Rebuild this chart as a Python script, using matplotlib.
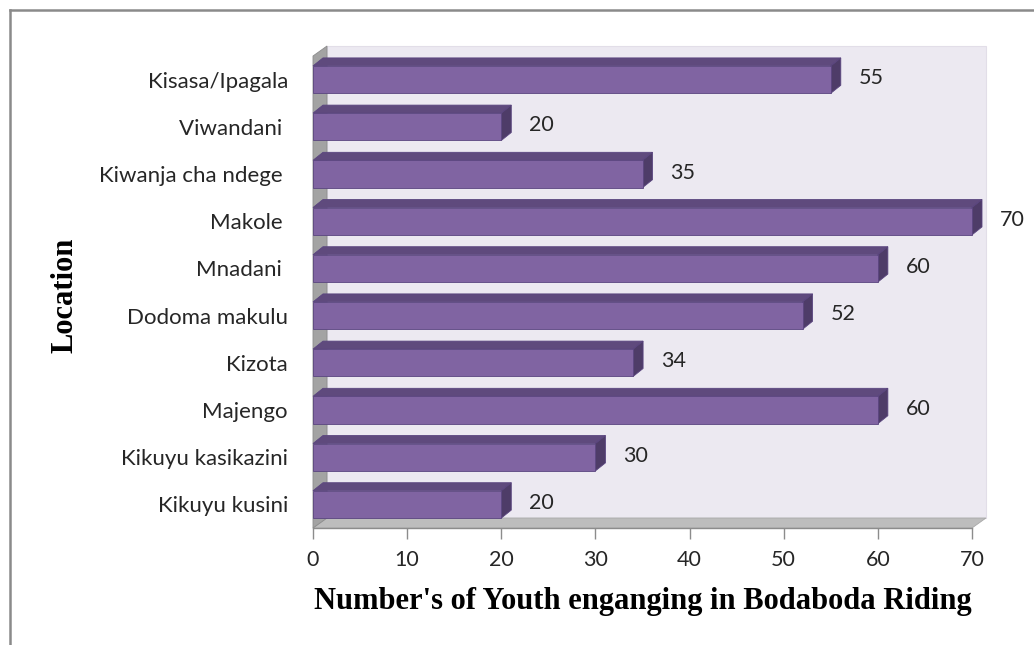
import matplotlib
matplotlib.use('Agg')
from matplotlib import pyplot as plt
from matplotlib.patches import Polygon, Rectangle
from matplotlib.lines import Line2D

# data (bottom to top)
locations = ['Kikuyu kusini', 'Kikuyu kasikazini', 'Majengo', 'Kizota', 'Dodoma makulu',
             'Mnadani ', 'Makole ', 'Kiwanja cha ndege ', 'Viwandani ', 'Kisasa/Ipagala']
youth = [20, 30, 60, 34, 52, 60, 70, 35, 20, 55]
x_ticks = [0, 10, 20, 30, 40, 50, 60, 70]

front_col = '#8064A2'
top_col = '#5F4A7D'
side_col = '#4E3C68'
edge_col = '#5A457F'

W, H = 1034, 645
fig = plt.figure(figsize=(W / 100, H / 100), dpi=100)
ax = fig.add_axes([313 / W, (H - 528) / H, 659 / W, 472 / H])
ax.set_xlim(0, 70)
ax.set_ylim(-0.5, len(locations) - 0.5)

# pixel -> data unit helpers
pos = ax.get_position()
px_x = (pos.width * W) / 70
px_y = (pos.height * H) / len(locations)
y0, y1 = -0.5, len(locations) - 0.5

# 3d walls (offset of the back plane)
wx, wy = 14 / px_x, 10 / px_y
ax.add_patch(Rectangle((wx, y0 + wy), 70, y1 - y0, facecolor='#ECE9F1',
                       edgecolor='#E2DEE8', lw=0.8, clip_on=False, zorder=0))
ax.add_patch(Polygon([(0, y0), (70, y0), (70 + wx, y0 + wy), (wx, y0 + wy)],
                     closed=True, facecolor='#BDBDBD', edgecolor='#A8A8A8', lw=0.6,
                     clip_on=False, zorder=1))
ax.add_patch(Polygon([(0, y0), (wx, y0 + wy), (wx, y1 + wy), (0, y1)],
                     closed=True, facecolor='#A3A3A3', edgecolor='#8C8C8C', lw=0.6,
                     clip_on=False, zorder=1))

# bars with top and side faces
bh = 0.58
bx, by = 10 / px_x, 8 / px_y
for i, v in enumerate(youth):
    lo, hi = i - bh / 2, i + bh / 2
    ax.add_patch(Polygon([(0, hi), (v, hi), (v + bx, hi + by), (bx, hi + by)],
                         closed=True, facecolor=top_col, edgecolor=edge_col, lw=0.6,
                         clip_on=False, zorder=3))
    ax.add_patch(Polygon([(v, lo), (v, hi), (v + bx, hi + by), (v + bx, lo + by)],
                         closed=True, facecolor=side_col, edgecolor=edge_col, lw=0.6,
                         clip_on=False, zorder=3))
ax.barh(range(len(locations)), youth, height=bh, color=front_col, edgecolor=edge_col,
        linewidth=0.6, zorder=4, clip_on=False)

for i, v in enumerate(youth):
    ax.annotate(str(v), (v, i), xytext=(20, 1), textcoords='offset points',
                ha='left', va='center', fontsize=15.5, family='Lato', color='#262626',
                annotation_clip=False)

ax.set_yticks(range(len(locations)))
ax.set_yticklabels(locations, fontsize=16, family='Lato', color='#262626')
ax.set_xticks(x_ticks)
ax.set_xticklabels([str(t) for t in x_ticks], fontsize=15.5, family='Lato', color='#262626')
ax.tick_params(axis='y', length=0, pad=18)
ax.tick_params(axis='x', length=8, width=1, color='#8C8C8C', pad=8)

for s in ['top', 'right', 'left']:
    ax.spines[s].set_visible(False)
ax.spines['bottom'].set_color('#8C8C8C')
ax.spines['bottom'].set_linewidth(1)
ax.patch.set_alpha(0)

fig.text(643 / W, 1 - 601 / H, "Number's of Youth enganging in Bodaboda Riding",
         ha='center', va='center', fontsize=22, fontweight='bold', family='Liberation Serif')
fig.text(65 / W, 1 - 295 / H, 'Location', rotation=90, ha='center', va='center',
         fontsize=22, fontweight='bold', family='Liberation Serif')

# outer frame of the chart area
fig.add_artist(Line2D([10 / W, 10 / W], [0, 1 - 10 / H], color='#8A8A8A', lw=1.8))
fig.add_artist(Line2D([10 / W, 1], [1 - 10 / H, 1 - 10 / H], color='#8A8A8A', lw=1.8))

fig.savefig('out.png', dpi=100)
